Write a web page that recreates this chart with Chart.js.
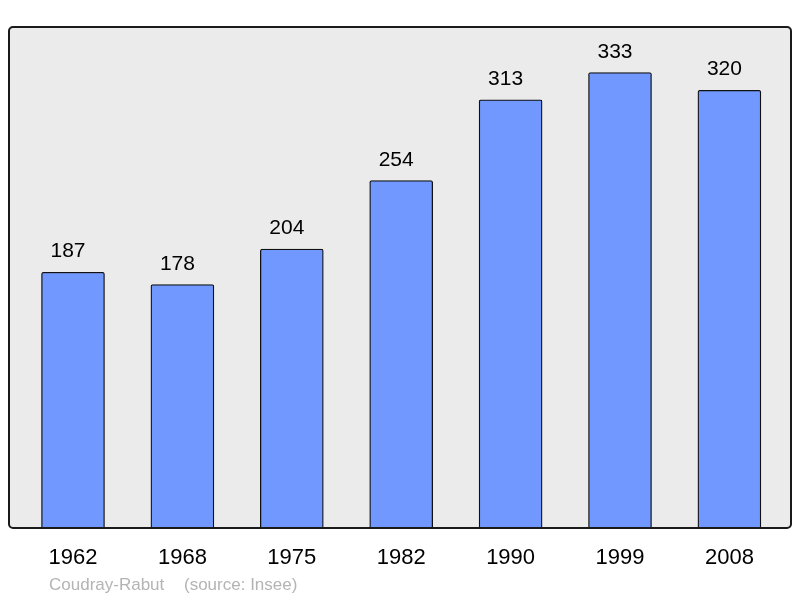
<!DOCTYPE html>
<html>
<head>
<meta charset="utf-8">
<script src="https://cdn.jsdelivr.net/npm/chart.js@4/dist/chart.umd.min.js"></script>
<style>
html,body{margin:0;padding:0;background:#fff;}
#wrap{width:800px;height:598px;position:relative;}
</style>
</head>
<body>
<div id="wrap"><canvas id="c" width="800" height="598"></canvas></div>
<script>
const years = ["1962","1968","1975","1982","1990","1999","2008"];
const population = [187,178,204,254,313,333,320];
const footerName = "Coudray-Rabut";
const footerSource = "(source: Insee)";

const FONT = "'Liberation Sans', Arial, sans-serif";

const framePlugin = {
  id: 'frame',
  beforeDatasetsDraw(chart) {
    const {ctx, chartArea: a} = chart;
    ctx.save();
    ctx.beginPath();
    ctx.roundRect(a.left, a.top, a.right - a.left, a.bottom - a.top, 4);
    ctx.fillStyle = '#ebebeb';
    ctx.fill();
    ctx.restore();
  },
  afterDatasetsDraw(chart) {
    const {ctx, chartArea: a} = chart;
    ctx.save();
    const meta = chart.getDatasetMeta(0);
    ctx.font = "21px " + FONT;
    ctx.fillStyle = '#000';
    ctx.textAlign = 'center';
    ctx.textBaseline = 'alphabetic';
    meta.data.forEach((bar, i) => {
      ctx.fillText(String(population[i]), bar.x - 5, bar.y - 15);
    });
    ctx.beginPath();
    ctx.roundRect(a.left, a.top, a.right - a.left, a.bottom - a.top, 4);
    ctx.lineWidth = 2;
    ctx.strokeStyle = '#1a1a1a';
    ctx.stroke();
    ctx.font = "17px " + FONT;
    ctx.fillStyle = '#b4b4b4';
    ctx.textAlign = 'left';
    ctx.fillText(footerName, 49, 590);
    ctx.fillText(footerSource, 184, 590);
    ctx.restore();
  }
};

new Chart(document.getElementById('c'), {
  type: 'bar',
  data: {
    datasets: [{
      data: population.map((v, i) => ({x: i, y: v})),
      backgroundColor: '#7098ff',
      borderColor: '#111',
      borderWidth: 1.3,
      borderRadius: 2,
      borderSkipped: 'bottom',
      barThickness: 63
    }]
  },
  options: {
    responsive: false,
    animation: false,
    events: [],
    layout: {padding: {left: 9, right: 9, top: 27, bottom: 0}},
    plugins: {legend: {display: false}, tooltip: {enabled: false}},
    scales: {
      x: {
        type: 'linear',
        offset: false,
        min: -0.585,
        max: 6.563,
        grid: {display: false, offset: false},
        border: {display: false},
        afterBuildTicks(scale) {
          scale.ticks = years.map((y, i) => ({value: i}));
        },
        afterFit(scale) { scale.height = 70; },
        ticks: {
          autoSkip: false,
          maxRotation: 0,
          padding: 9,
          color: '#000',
          font: {family: FONT, size: 22},
          callback: (v) => years[v]
        }
      },
      y: {
        display: false,
        min: 0,
        max: 333 * 1.1
      }
    }
  },
  plugins: [framePlugin]
});
</script>
</body>
</html>
